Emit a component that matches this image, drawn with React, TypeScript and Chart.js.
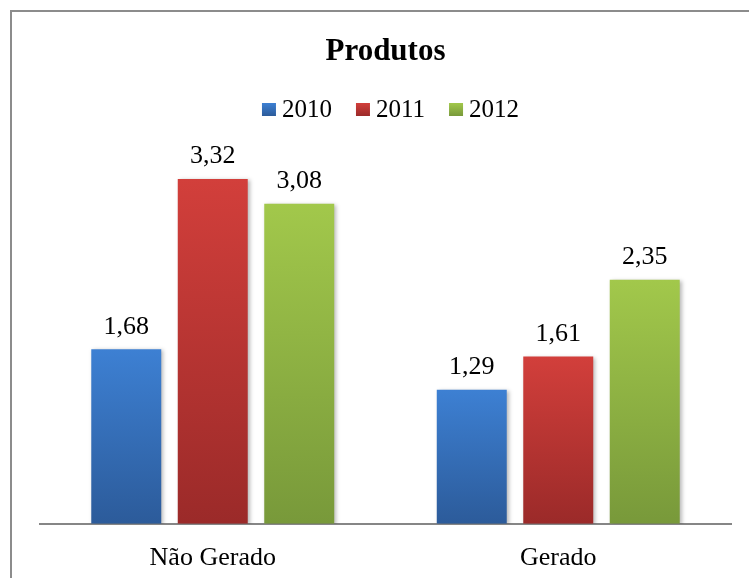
import { useEffect, useRef } from "react";
import { Chart, registerables } from "chart.js";

Chart.register(...registerables);

const chartTitle = "Produtos";
const categories = ["Não Gerado", "Gerado"];
const seriesLabels = ["2010", "2011", "2012"];
const values2010 = [1.68, 1.29];
const values2011 = [3.32, 1.61];
const values2012 = [3.08, 2.35];
const topColors = ["#3D80D3", "#D23F3B", "#A2C84B"];
const bottomColors = ["#2C5B9A", "#9B2A29", "#78993A"];

const FONT = "'Liberation Serif', 'Times New Roman', serif";

function fmt(v: number): string {
  return v.toFixed(2).replace(".", ",");
}

export default function App() {
  const canvasRef = useRef<HTMLCanvasElement | null>(null);

  useEffect(() => {
    const canvas = canvasRef.current;
    if (!canvas) return;

    const gradientFor = (ctx: any) => {
      const ds = ctx.datasetIndex;
      const chart = ctx.chart;
      if (ctx.type !== "data" || !chart.chartArea || !chart.scales.y) return topColors[ds];
      const ys = chart.scales.y;
      const v = ctx.parsed ? ctx.parsed.y : ctx.raw;
      const top = ys.getPixelForValue(v);
      const bottom = ys.getPixelForValue(0);
      if (!isFinite(top) || !isFinite(bottom) || top === bottom) return topColors[ds];
      const g = chart.ctx.createLinearGradient(0, top, 0, bottom);
      g.addColorStop(0, topColors[ds]);
      g.addColorStop(1, bottomColors[ds]);
      return g;
    };

    const decorPlugin = {
      id: "decor",
      beforeDatasetsDraw(chart: any) {
        const c = chart.ctx;
        c.save();
        c.shadowColor = "rgba(0,0,0,0.28)";
        c.shadowBlur = 4;
        c.shadowOffsetX = 2;
        c.shadowOffsetY = 1;
      },
      afterDatasetsDraw(chart: any) {
        const c = chart.ctx;
        c.restore();
        c.save();
        c.font = `26px ${FONT}`;
        c.fillStyle = "#000";
        c.textAlign = "center";
        c.textBaseline = "alphabetic";
        chart.data.datasets.forEach((ds: any, i: number) => {
          const meta = chart.getDatasetMeta(i);
          meta.data.forEach((bar: any, j: number) => {
            c.fillText(fmt(ds.data[j]), bar.x, bar.y - 15.5);
          });
        });
        c.restore();
      },
      afterDraw(chart: any) {
        const c = chart.ctx;
        c.save();
        c.font = `25px ${FONT}`;
        c.textBaseline = "alphabetic";
        c.textAlign = "left";
        const boxW = 14;
        const boxH = 13;
        const gap = 6;
        const itemGap = 24;
        const labels = chart.data.datasets.map((d: any) => d.label as string);
        const widths = labels.map((l: string) => boxW + gap + c.measureText(l).width);
        const total = widths.reduce((a: number, b: number) => a + b, 0) + itemGap * (labels.length - 1);
        const cx = (chart.chartArea.left + chart.chartArea.right) / 2 + 5;
        let x = cx - total / 2;
        const baseline = 117;
        labels.forEach((l: string, i: number) => {
          const by = baseline - 14;
          const g = c.createLinearGradient(0, by, 0, by + boxH);
          g.addColorStop(0, topColors[i]);
          g.addColorStop(1, bottomColors[i]);
          c.fillStyle = g;
          c.fillRect(x, by, boxW, boxH);
          c.fillStyle = "#000";
          c.fillText(l, x + boxW + gap, baseline);
          x += widths[i] + itemGap;
        });
        c.restore();
      },
    };

    const chart = new Chart(canvas, {
      type: "bar",
      data: {
        labels: categories,
        datasets: [
          { label: seriesLabels[0], data: values2010, backgroundColor: gradientFor },
          { label: seriesLabels[1], data: values2011, backgroundColor: gradientFor },
          { label: seriesLabels[2], data: values2012, backgroundColor: gradientFor },
        ],
      },
      options: {
        responsive: false,
        animation: false,
        devicePixelRatio: 1,
        layout: { padding: { left: 40, right: 18, top: 0, bottom: -15 } },
        datasets: {
          bar: { categoryPercentage: 0.751, barPercentage: 0.809 },
        },
        plugins: {
          legend: { display: false },
          tooltip: { enabled: false },
          title: {
            display: true,
            text: chartTitle,
            color: "#000",
            font: { family: FONT, size: 31, weight: "bold", lineHeight: 1.2 },
            padding: { top: 33, bottom: 90 },
          },
        },
        scales: {
          x: {
            grid: { display: false, drawTicks: false },
            border: { display: true, color: "#868686", width: 2 },
            ticks: { color: "#000", font: { family: FONT, size: 26 }, padding: 19 },
          },
          y: {
            display: false,
            min: 0,
            max: 3.5,
          },
        },
      },
      plugins: [decorPlugin],
    });

    return () => chart.destroy();
  }, []);

  return (
    <div
      style={{
        position: "absolute",
        left: 0,
        top: 0,
        width: 749,
        height: 578,
        overflow: "hidden",
        background: "#fff",
      }}
    >
      <div
        style={{
          position: "absolute",
          left: 10,
          top: 10,
          width: 760,
          height: 600,
          borderLeft: "2px solid #8c8c8c",
          borderTop: "2px solid #8c8c8c",
          boxSizing: "border-box",
        }}
      />
      <canvas
        ref={canvasRef}
        width={749}
        height={578}
        style={{ position: "absolute", left: 0, top: 0, width: 749, height: 578 }}
      />
    </div>
  );
}
